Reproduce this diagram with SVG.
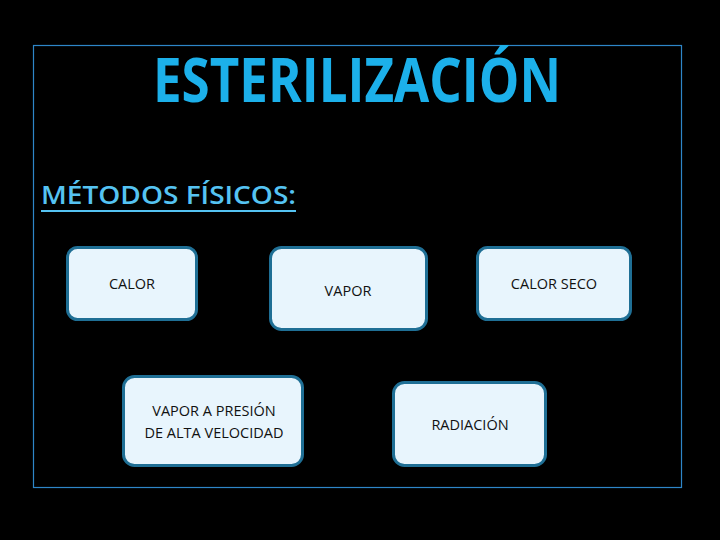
<svg xmlns="http://www.w3.org/2000/svg" width="720" height="540" viewBox="0 0 720 540">
<style>
.box{fill:#e8f5fd;stroke:#1f6f95;stroke-width:3}
.lbl{font-family:"Open Sans","Liberation Sans",sans-serif;font-size:14.5px;fill:#111;text-anchor:middle}
</style>
<rect x="0" y="0" width="720" height="540" fill="#000"/>
<rect x="33.5" y="45.5" width="648" height="442" fill="none" stroke="#2e86c8" stroke-width="1.2"/>
<text x="357" y="102" font-family="'Open Sans','Liberation Sans',sans-serif" font-weight="bold" font-size="60" fill="#1cb0ea" text-anchor="middle" textLength="408" lengthAdjust="spacingAndGlyphs">ESTERILIZACIÓN</text>
<text x="41" y="204" font-family="'Open Sans','Liberation Sans',sans-serif" font-weight="600" font-size="25" fill="#55c3f2" textLength="255" lengthAdjust="spacingAndGlyphs">MÉTODOS FÍSICOS:</text>
<rect x="41" y="210" width="255" height="2" fill="#55c3f2"/>
<g id="calor"><rect class="box" x="67.5" y="247.5" width="129" height="72" rx="10"/><text class="lbl" x="132" y="289">CALOR</text></g>
<g id="vapor"><rect class="box" x="270.5" y="247.5" width="156" height="82" rx="11"/><text class="lbl" x="348" y="296">VAPOR</text></g>
<g id="calorseco"><rect class="box" x="477.5" y="247.5" width="153" height="72" rx="10"/><text class="lbl" x="554" y="289">CALOR SECO</text></g>
<g id="vaporpresion"><rect class="box" x="123.5" y="376.5" width="179" height="89" rx="11"/><text class="lbl" x="214" y="416">VAPOR A PRESIÓN</text><text class="lbl" x="214" y="438">DE ALTA VELOCIDAD</text></g>
<g id="radiacion"><rect class="box" x="393.5" y="382.5" width="152" height="83" rx="11"/><text class="lbl" x="470" y="430">RADIACIÓN</text></g>
<g id="connectors"></g>
</svg>
